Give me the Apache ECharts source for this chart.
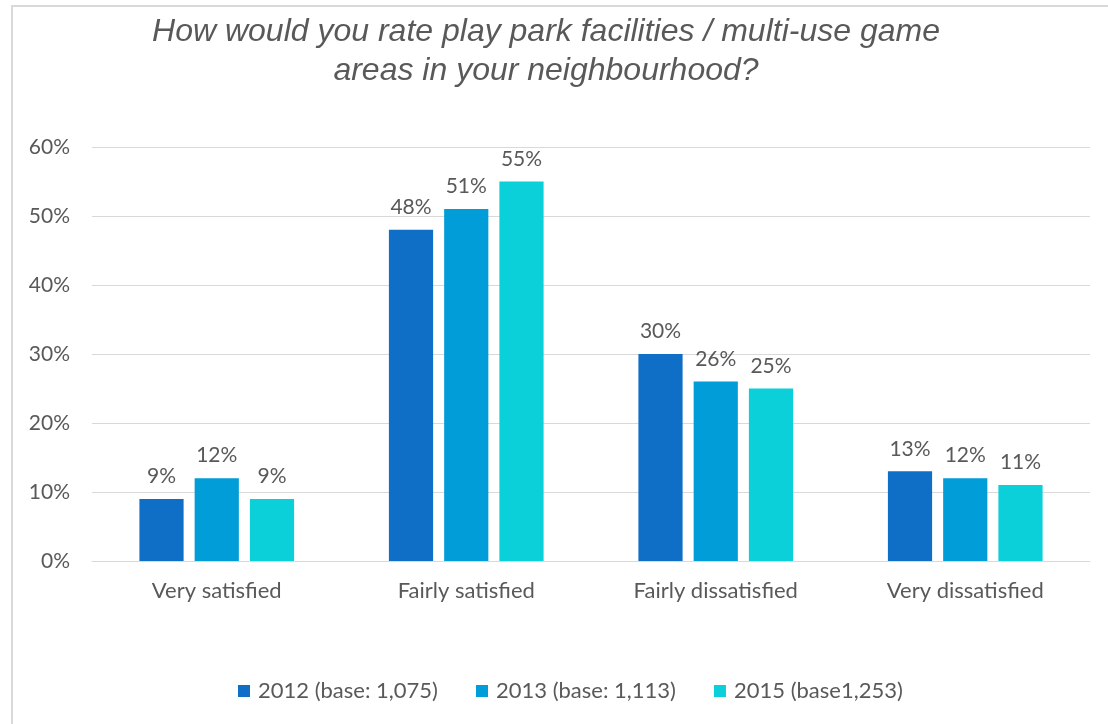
<!DOCTYPE html>
<html>
<head>
<meta charset="utf-8">
<style>
  html, body { margin: 0; padding: 0; background: #fff; }
  #chart { width: 1108px; height: 724px; }
</style>
<script src="https://cdn.jsdelivr.net/npm/echarts@6/dist/echarts.min.js"></script>
</head>
<body>
<div id="chart"></div>
<script>
const categories = ['Very satisfied', 'Fairly satisfied', 'Fairly dissatisfied', 'Very dissatisfied'];
const seriesNames = ['2012 (base: 1,075)', '2013 (base: 1,113)', '2015 (base1,253)'];
const values2012 = [9, 48, 30, 13];
const values2013 = [12, 51, 26, 12];
const values2015 = [9, 55, 25, 11];
const yTicks = [0, 10, 20, 30, 40, 50, 60];

const colors = ['#0F6FC6', '#009DD9', '#0BD0D9'];
const textColor = '#595959';
const font = 'Lato, "Open Sans", sans-serif';

const chart = echarts.init(document.getElementById('chart'), null, { renderer: 'canvas' });

function barSeries(name, data, color) {
  return {
    name: name,
    type: 'bar',
    data: data,
    barGap: '25%',
    barCategoryGap: '38%',
    itemStyle: { color: color },
    label: {
      show: true,
      position: 'top',
      distance: 12,
      formatter: '{c}%',
      color: textColor,
      fontSize: 21,
      fontFamily: font
    }
  };
}

chart.setOption({
  animation: false,
  color: colors,
  title: {
    text: 'How would you rate play park facilities / multi-use game\nareas in your neighbourhood?',
    left: 541,
    top: 8,
    textAlign: 'center',
    textStyle: {
      color: textColor,
      fontSize: 32,
      fontStyle: 'italic',
      fontWeight: 'normal',
      fontFamily: '"Liberation Sans", Arial, sans-serif',
      lineHeight: 39
    }
  },
  graphic: [{
    type: 'rect',
    shape: { x: 12, y: 6, width: 1110, height: 730 },
    style: { fill: 'none', stroke: '#D9D9D9', lineWidth: 2 },
    silent: true
  }],
  legend: {
    bottom: 17,
    left: 233,
    itemWidth: 12,
    itemHeight: 12,
    itemGap: 38,
    icon: 'rect',
    textStyle: { color: textColor, fontSize: 22, fontFamily: font, padding: [0, 0, 0, 3] }
  },
  grid: { left: 92, right: 18, top: 147, bottom: 163, containLabel: false },
  xAxis: {
    type: 'category',
    data: categories,
    axisLine: { lineStyle: { color: '#D9D9D9', width: 1 } },
    axisTick: { show: false },
    axisLabel: { color: textColor, fontSize: 22, fontFamily: font, margin: 19 }
  },
  yAxis: {
    type: 'value',
    min: yTicks[0],
    max: yTicks[yTicks.length - 1],
    interval: yTicks[1] - yTicks[0],
    axisLine: { show: false },
    axisTick: { show: false },
    splitLine: { lineStyle: { color: '#D9D9D9', width: 1 } },
    axisLabel: { color: textColor, fontSize: 21, fontFamily: font, margin: 22, formatter: '{value}%' }
  },
  series: [
    barSeries(seriesNames[0], values2012, colors[0]),
    barSeries(seriesNames[1], values2013, colors[1]),
    barSeries(seriesNames[2], values2015, colors[2])
  ]
});
</script>
</body>
</html>
